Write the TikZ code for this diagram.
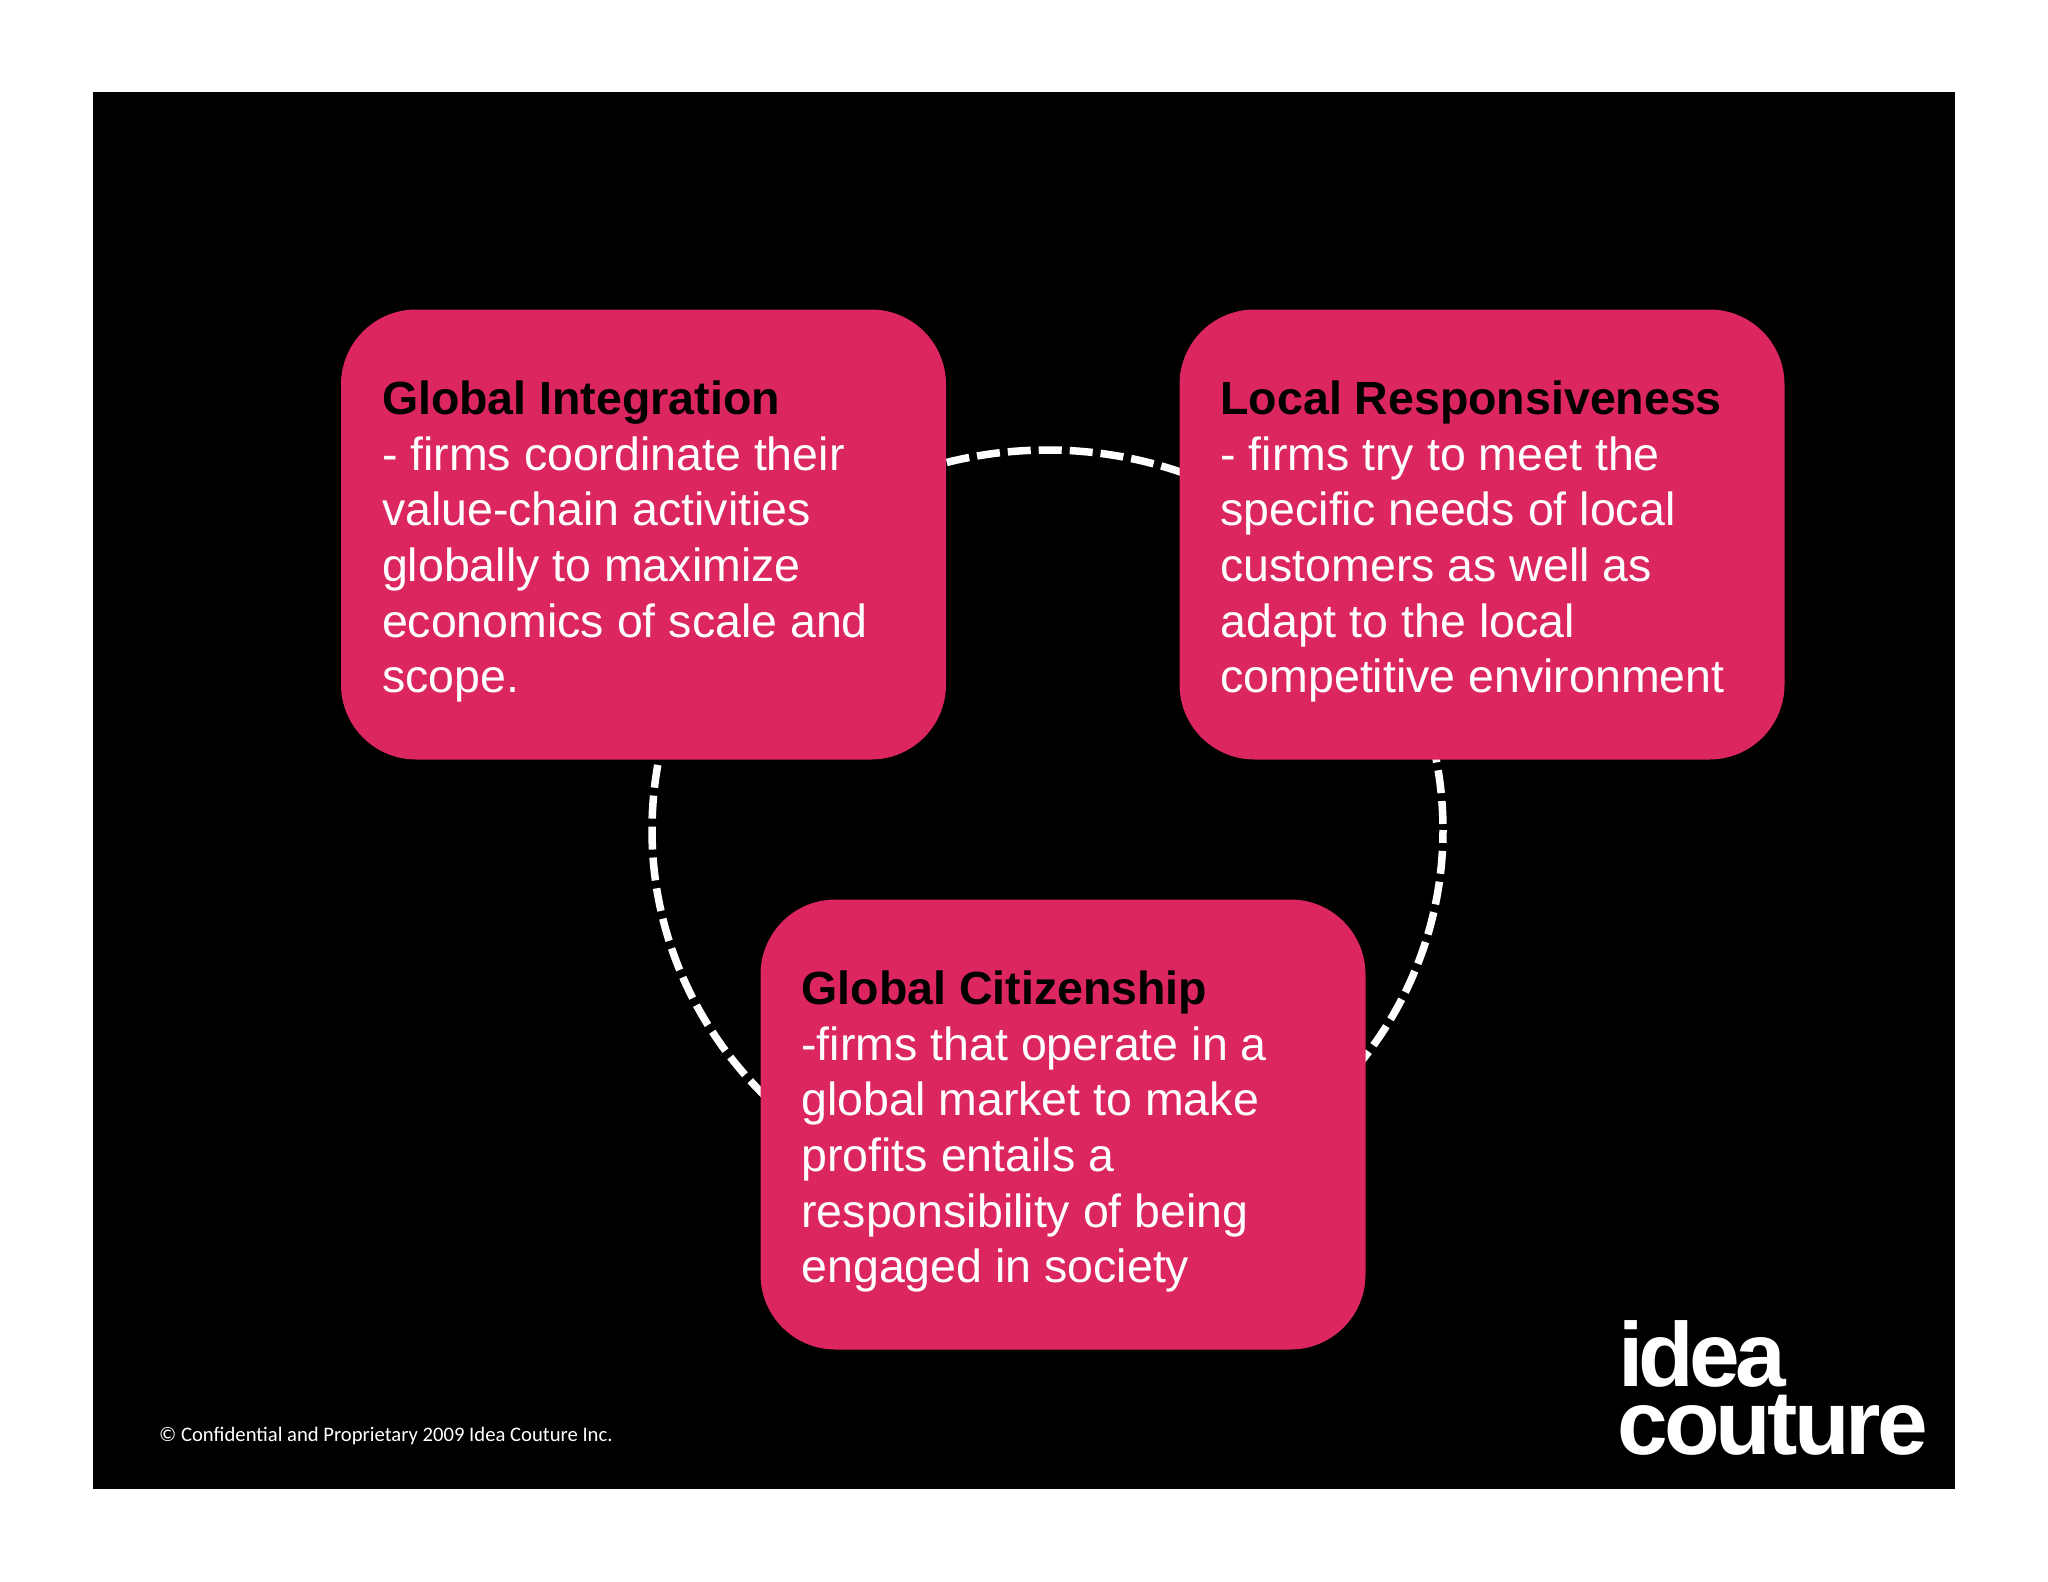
\documentclass[tikz,border=0pt]{standalone}
\usepackage{fontspec}
\usetikzlibrary{shapes.geometric}
\setmainfont{Liberation Sans}
\newfontfamily\logofonta[LetterSpace=-5.2]{Liberation Sans}
\newfontfamily\logofontb[LetterSpace=-4.2]{Liberation Sans}
\newfontfamily\notefont{Carlito}
\definecolor{boxpink}{HTML}{DC2660}
\newcommand{\boxfont}{\fontsize{46.5}{55.6}\selectfont}
\tikzset{
  infobox/.style={fill=boxpink,rounded corners=75pt,minimum width=605pt,minimum height=450pt,inner xsep=41pt,inner ysep=0pt,
    text width=523pt,align=flush left,text=white,font=\boxfont},
  ringline/.style={ellipse,draw=white,line width=7.5pt,dash pattern=on 23pt off 8pt,dash phase=25pt,minimum width=791pt,minimum height=760pt,inner sep=0pt},
  logotext/.style={text=white,inner sep=0pt,anchor=base west},
}
\newcommand{\boxtitle}[1]{\rule{0pt}{48pt}\textcolor{black}{\textbf{#1}}}
\begin{document}
\begin{tikzpicture}[x=1pt,y=-1pt]
\useasboundingbox (0,0) rectangle (2048,1582);
\fill[white] (0,0) rectangle (2048,1582);
\fill[black] (93,92) rectangle (1955,1489);
\node[ringline] (ring) at (1047.5,830) {};
\node[infobox] (integration) at (643.5,534.5) {\boxtitle{Global Integration}\\- firms coordinate their\\value-chain activities\\globally to maximize\\economics of scale and\\scope.};
\node[infobox] (local) at (1482,534.5) {\boxtitle{Local Responsiveness}\\- firms try to meet the\\specific needs of local\\customers as well as\\adapt to the local\\competitive environment};
\node[infobox] (citizen) at (1063,1124.5) {\boxtitle{Global Citizenship}\\-firms that operate in a\\global market to make\\profits entails a\\responsibility of being\\engaged in society};
\node[text=white,font=\notefont\fontsize{20.65}{24}\selectfont,inner sep=0pt,anchor=base west] (note) at (159,1441) {© Confidential and Proprietary 2009 Idea Couture Inc.};
\node[logotext,font=\logofonta\bfseries\fontsize{91}{91}\selectfont] (logoa) at (1618,1386) {idea};
\node[logotext,font=\logofontb\bfseries\fontsize{91}{91}\selectfont] (logob) at (1617,1454) {couture};
\end{tikzpicture}
\end{document}
